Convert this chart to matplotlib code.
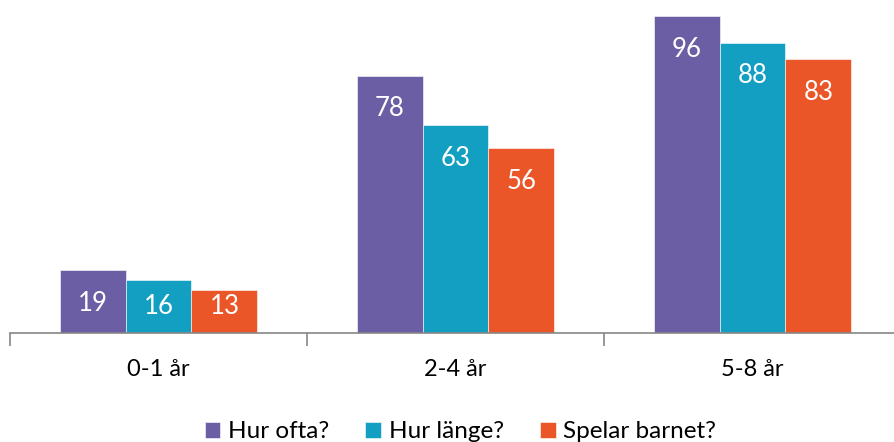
import matplotlib.pyplot as plt
import numpy as np

plt.rcParams['font.family'] = ['Lato', 'DejaVu Sans']

categories = ['0-1 år', '2-4 år', '5-8 år']
series_names = ['Hur ofta?', 'Hur länge?', 'Spelar barnet?']
hur_ofta = [19, 78, 96]
hur_lange = [16, 63, 88]
spelar_barnet = [13, 56, 83]
colors = ['#6B5EA5', '#139FC2', '#EA5628']

fig = plt.figure(figsize=(8.94, 4.42), dpi=100)
# axes runs a bit past the right edge, like the original
ax = fig.add_axes([10 / 894, 1 - 333 / 442, 891 / 894, 333 / 442])

x = np.arange(len(categories))
w = 0.222
for i, (vals, name) in enumerate(zip([hur_ofta, hur_lange, spelar_barnet], series_names)):
    bars = ax.bar(x + (i - 1) * w, vals, w, color=colors[i], label=name,
                  edgecolor='white', linewidth=0.4)
    for b, v in zip(bars, vals):
        # inside end, but short bars keep the label off the axis
        ax.text(b.get_x() + b.get_width() / 2, max(v - 10, 7.9), str(v),
                ha='center', va='center', color='white', fontsize=18.5)

ax.set_xlim(-0.5, 2.5)
ax.set_ylim(0, 101)
for s in ['top', 'right', 'left']:
    ax.spines[s].set_visible(False)
ax.spines['bottom'].set_color('#868686')
ax.spines['bottom'].set_linewidth(1.2)
ax.set_yticks([])

ax.set_xticks(x)
ax.set_xticklabels(categories, fontsize=17)
ax.tick_params(axis='x', which='major', length=0, pad=19)
ax.set_xticks([-0.5, 0.5, 1.5, 2.5], minor=True)
ax.tick_params(axis='x', which='minor', length=9, color='#868686', width=1.2)

fig.legend(loc='lower center', bbox_to_anchor=(0.515, -0.05), ncol=3, frameon=False,
           fontsize=17.5, handlelength=0.65, handleheight=0.65, handletextpad=0.3,
           columnspacing=1.5)

plt.savefig('out.png', dpi=100)
